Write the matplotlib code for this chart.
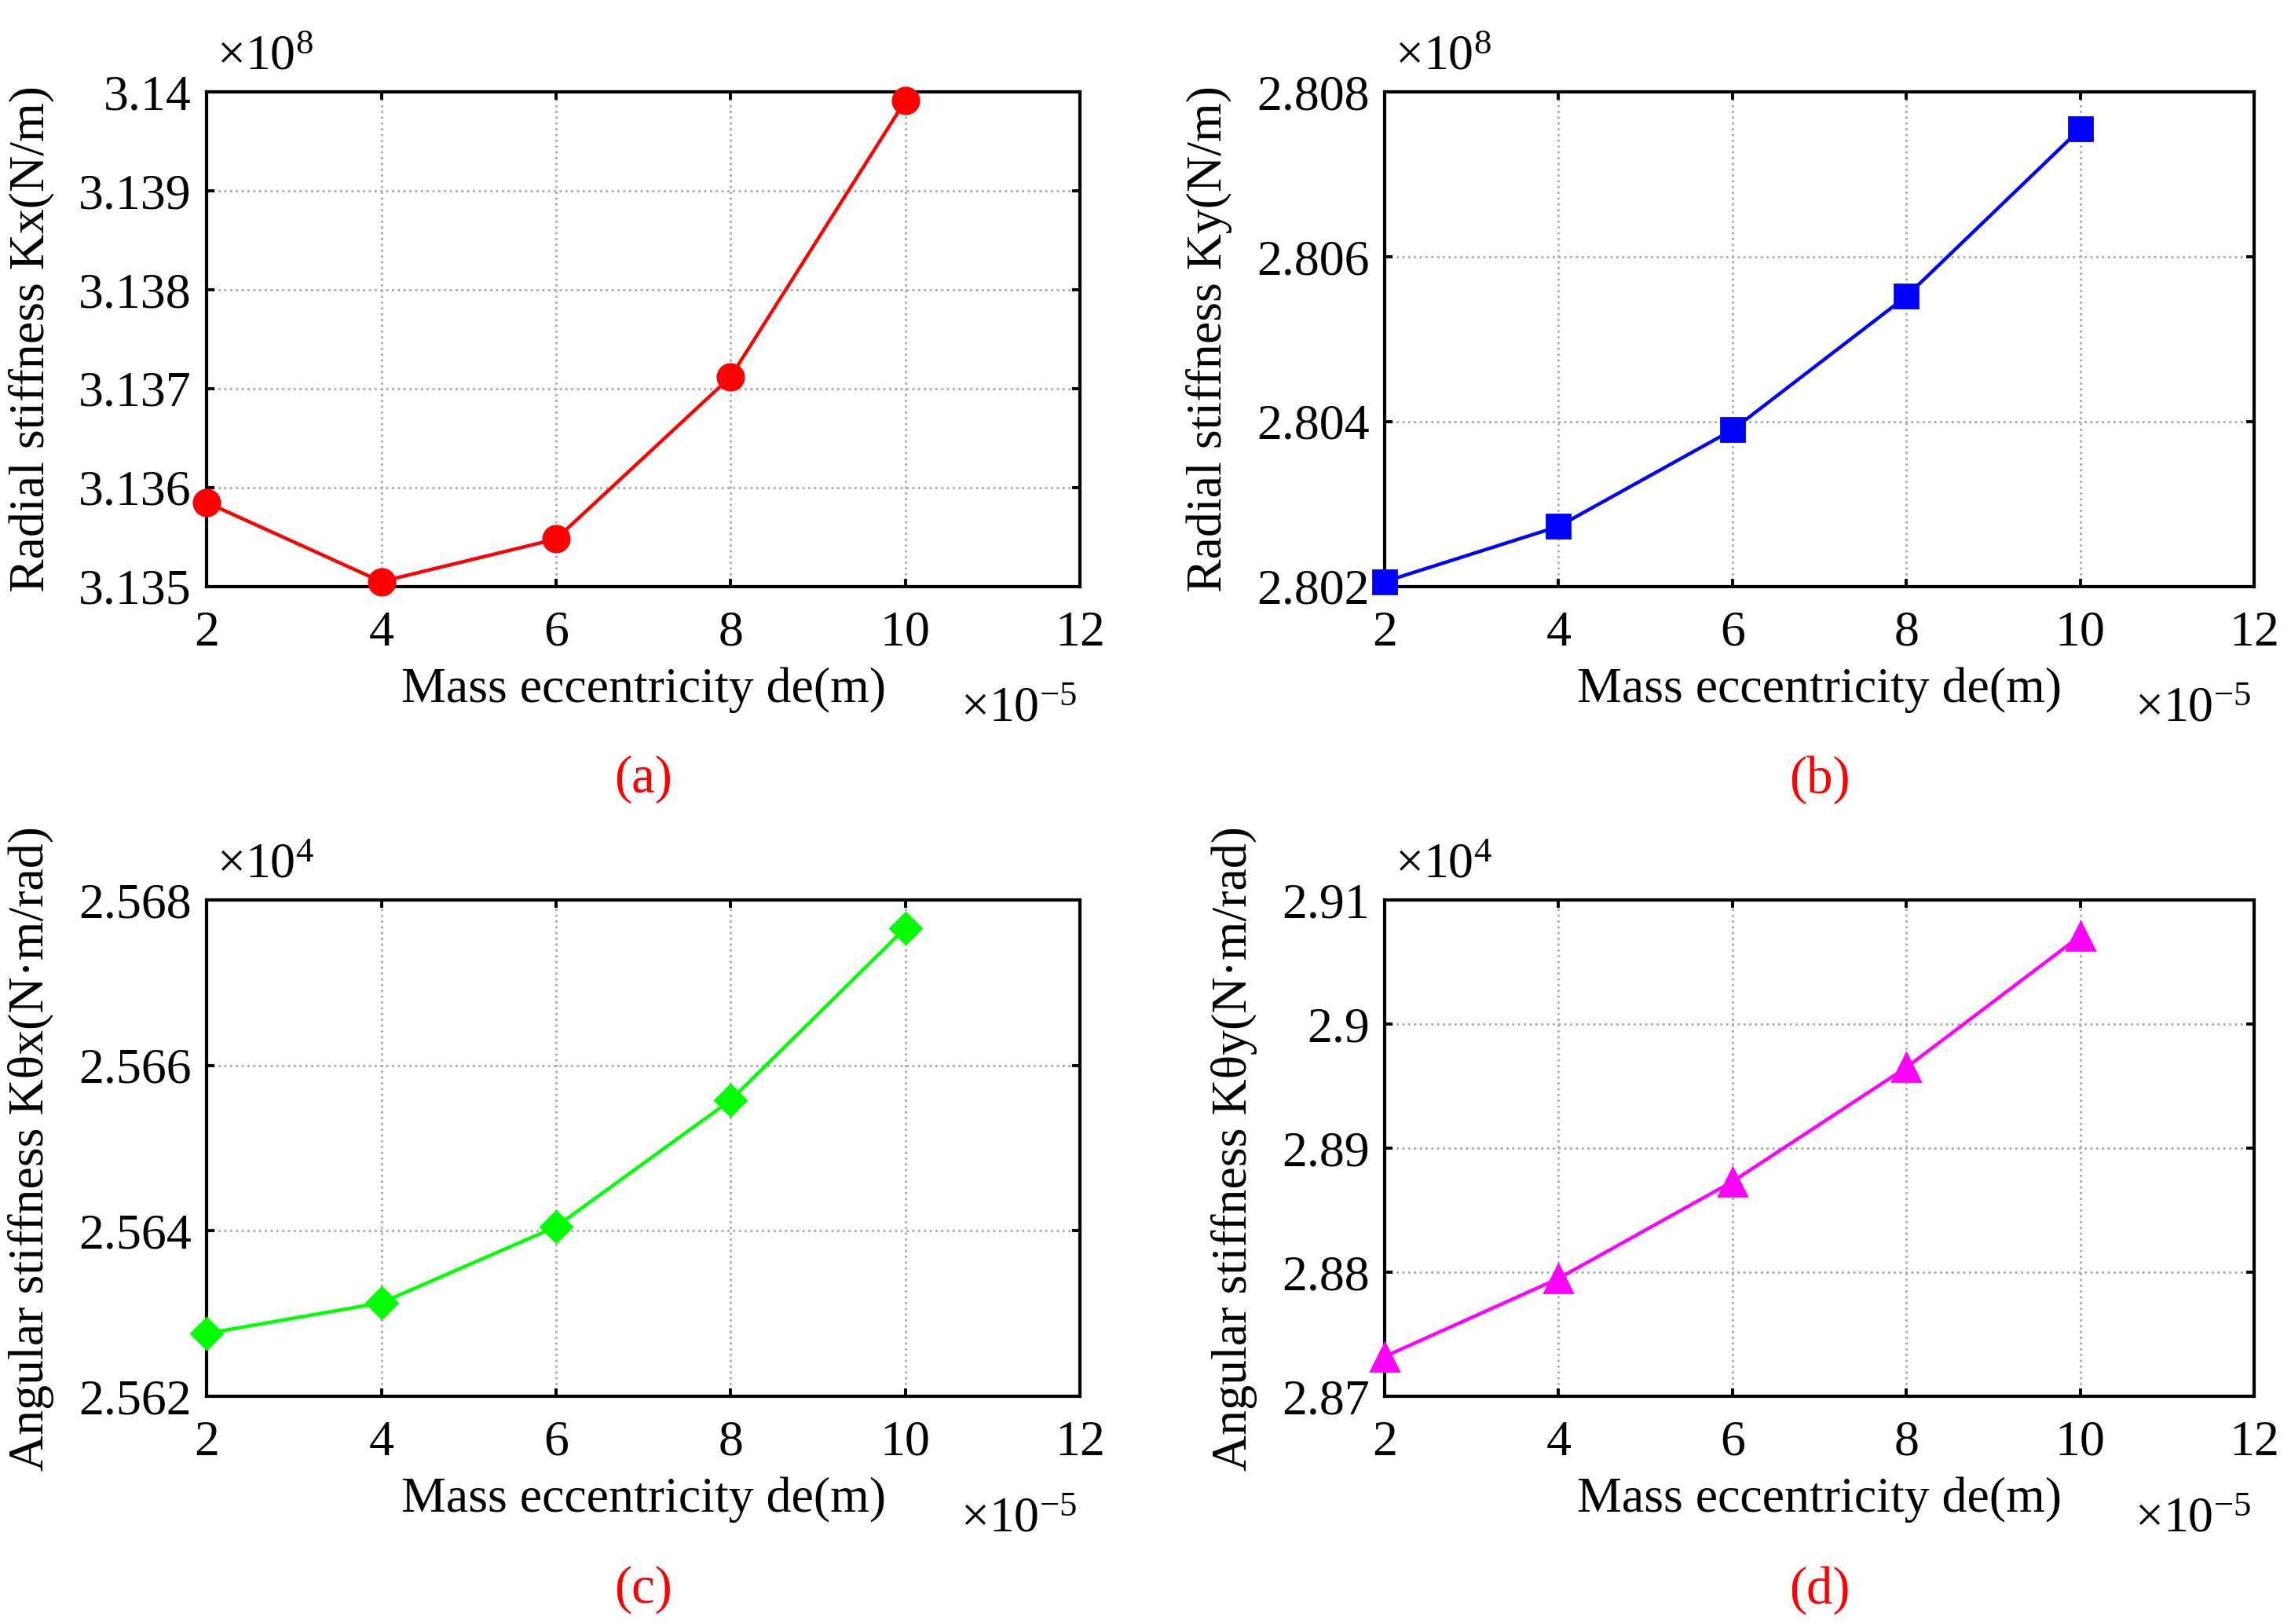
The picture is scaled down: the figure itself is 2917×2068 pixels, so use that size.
"""
Stiffness of the bearing against mass eccentricity, four panels

"""

import matplotlib
matplotlib.use('Agg')
import matplotlib.pyplot as plt
from matplotlib.ticker import FuncFormatter, MultipleLocator

plt.rcParams['font.family'] = 'Liberation Serif'
plt.rcParams['mathtext.fontset'] = 'custom'
plt.rcParams['mathtext.rm'] = 'Liberation Serif'

# mass eccentricity, x1e-5 m
de = [2, 4, 6, 8, 10]

# radial stiffness, x1e8 N/m
kx = [3.13585, 3.13505, 3.13548, 3.13712, 3.13991]
ky = [2.80206, 2.80273, 2.80390, 2.80552, 2.80755]

# angular stiffness, x1e4 N.m/rad
ktx = [2.56276, 2.56313, 2.56405, 2.56558, 2.56766]
kty = [2.8732, 2.8795, 2.8873, 2.8965, 2.9071]

ylabels = ['Radial stiffness Kx(N/m)', 'Radial stiffness Ky(N/m)',
           'Angular stiffness K\u03b8x(N\u00b7m/rad)', 'Angular stiffness K\u03b8y(N\u00b7m/rad)']
letters = ['(a)', '(b)', '(c)', '(d)']
exponents = [8, 8, 4, 4]
ylims = [(3.135, 3.140), (2.802, 2.808), (2.562, 2.568), (2.87, 2.91)]
ysteps = [0.001, 0.002, 0.002, 0.01]

series = [kx, ky, ktx, kty]
colors = ['#ff0000', '#0000ff', '#00ff00', '#ff00ff']
markers = ['o', 's', 'D', '^']
msizes = [12, 11, 10, 13]

# axes boxes in figure fractions (left, bottom, width, height)
boxes = [(0.0902, 0.6388, 0.3812, 0.3046),
         (0.6044, 0.6388, 0.3795, 0.3046),
         (0.0902, 0.1402, 0.3812, 0.3056),
         (0.6044, 0.1402, 0.3795, 0.3056)]

fig = plt.figure(figsize=(14.585, 10.34), dpi=200)

for i in range(4):
    ax = fig.add_axes(boxes[i])
    ax.plot(de, series[i], color=colors[i], lw=1.6, clip_on=False, zorder=3,
            marker=markers[i], ms=msizes[i], mfc=colors[i], mec=colors[i])

    ax.set_xlim(2, 12)
    ax.set_ylim(*ylims[i])
    ax.xaxis.set_major_locator(MultipleLocator(2))
    ax.yaxis.set_major_locator(MultipleLocator(ysteps[i]))
    ax.yaxis.set_major_formatter(FuncFormatter(lambda v, p: '%g' % round(v, 6)))

    ax.grid(True, color='#a8a8a8', linestyle=':', lw=1.0)
    ax.tick_params(direction='in', length=3.6, width=1.4, top=True, right=True,
                   labelsize=23)
    ax.tick_params(axis='x', pad=11)
    ax.tick_params(axis='y', pad=7)
    for s in ax.spines.values():
        s.set_linewidth(1.5)

    ax.set_xlabel('Mass eccentricity de(m)', fontsize=23, labelpad=5)
    ax.set_ylabel(ylabels[i], fontsize=23, labelpad=11)

    # MATLAB style exponent labels
    ax.text(0.012, 1.045, r'$\times\mathregular{10^{%d}}$' % exponents[i],
            transform=ax.transAxes, fontsize=23, ha='left', va='baseline')
    ax.text(0.997, -0.273, r'$\times\mathregular{10^{-5}}$',
            transform=ax.transAxes, fontsize=23, ha='right', va='baseline')

    ax.text(0.5, -0.39, letters[i], transform=ax.transAxes, fontsize=24,
            color='red', ha='center', va='center')

fig.savefig('out.png', dpi=200)
